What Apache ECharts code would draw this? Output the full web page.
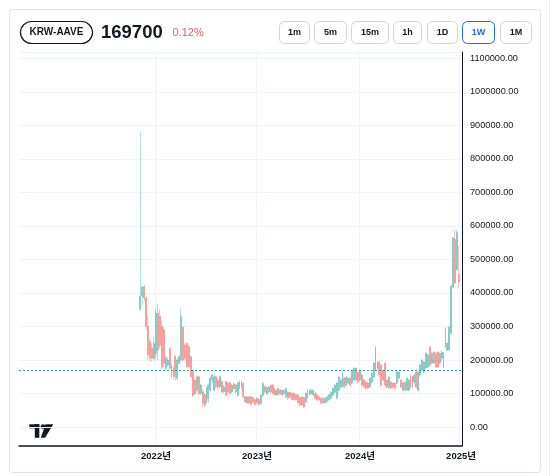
<!DOCTYPE html>
<html>
<head>
<meta charset="utf-8">
<script src="https://cdn.jsdelivr.net/npm/echarts@6/dist/echarts.min.js"></script>
<style>
  html, body { margin: 0; padding: 0; background: #fff; }
  #chart { width: 552px; height: 476px; }
</style>
</head>
<body>
<div id="chart"></div>
<script>
const SYMBOL = 'KRW-AAVE'
const CURRENT_PRICE = 169700
const CHANGE_TEXT = '0.12%'
const INTERVALS = ['1m', '5m', '15m', '1h', '1D', '1W', '1M']
const ACTIVE_INTERVAL = '1W'
const YEAR_LABELS = [2022, 2023, 2024, 2025]
// weekly slots on the time axis (mondays); candles start at FIRST_CANDLE_WEEK
const AXIS_FIRST_WEEK = '2020-08-24'
const AXIS_LAST_WEEK = '2024-12-30'
const FIRST_CANDLE_WEEK = '2021-11-01'

// weekly candles in thousand KRW: [open, close, low, high]
const CANDLES = [
  [352, 390, 346, 880], [390, 418, 364, 424], [418, 385, 375, 424], [385, 300, 290, 390],
  [300, 215, 200, 334], [255, 205, 195, 260], [235, 205, 195, 250], [205, 250, 198, 270],
  [220, 340, 200, 352], [340, 230, 200, 367], [330, 245, 235, 352], [300, 180, 170, 319],
  [290, 190, 175, 298], [175, 205, 170, 215], [185, 200, 180, 210], [235, 175, 170, 236],
  [185, 150, 145, 185], [150, 175, 140, 180], [210, 150, 140, 215], [145, 200, 140, 206],
  [190, 210, 185, 215], [200, 330, 195, 355], [298, 200, 194, 300], [245, 205, 200, 250],
  [250, 180, 178, 252], [240, 180, 175, 245], [210, 150, 148, 212], [170, 95, 90, 172],
  [140, 100, 95, 145], [110, 150, 100, 155], [150, 100, 95, 152], [100, 125, 95, 128],
  [105, 70, 60, 112], [96, 66, 60, 100], [72, 118, 70, 120], [85, 125, 72, 130],
  [110, 145, 105, 150], [140, 155, 130, 160], [110, 150, 105, 158], [150, 120, 115, 152],
  [140, 120, 110, 145], [120, 150, 115, 155], [135, 105, 100, 140], [105, 120, 100, 125],
  [135, 95, 92, 138], [130, 105, 100, 136], [132, 100, 98, 135], [105, 125, 100, 128],
  [128, 115, 110, 132], [105, 125, 100, 128], [95, 132, 90, 135], [115, 135, 110, 140],
  [135, 118, 112, 138], [130, 90, 85, 133], [90, 75, 70, 92], [72, 90, 70, 92],
  [90, 72, 70, 92], [90, 68, 65, 92], [88, 75, 70, 90], [82, 68, 65, 84],
  [86, 72, 70, 88], [82, 68, 64, 85], [70, 95, 66, 100], [95, 130, 90, 135],
  [120, 105, 100, 125], [100, 118, 96, 122], [105, 120, 100, 122], [125, 105, 100, 128],
  [125, 100, 96, 128], [115, 95, 92, 118], [96, 110, 92, 112], [115, 96, 92, 118],
  [100, 110, 96, 112], [110, 96, 92, 112], [100, 110, 96, 112], [90, 115, 86, 118],
  [104, 85, 80, 108], [104, 90, 86, 106], [100, 82, 80, 102], [100, 82, 80, 104],
  [96, 81, 78, 98], [96, 72, 70, 98], [88, 66, 62, 90], [90, 66, 62, 92],
  [87, 60, 58, 90], [75, 100, 72, 104], [86, 110, 84, 114], [110, 96, 92, 114],
  [100, 110, 96, 112], [96, 110, 92, 112], [100, 86, 82, 104], [96, 81, 78, 98],
  [90, 81, 78, 92], [86, 72, 68, 88], [86, 72, 68, 88], [72, 86, 68, 88],
  [76, 90, 72, 92], [81, 96, 78, 98], [86, 104, 82, 106], [96, 116, 92, 118],
  [104, 125, 100, 128], [86, 131, 82, 134], [110, 149, 106, 152], [120, 140, 116, 142],
  [120, 161, 116, 164], [146, 120, 116, 148], [125, 149, 120, 152], [131, 146, 128, 148],
  [146, 125, 120, 148], [131, 170, 128, 172], [140, 176, 136, 178], [176, 140, 136, 178],
  [164, 134, 130, 166], [140, 170, 136, 172], [155, 125, 120, 158], [140, 120, 116, 142],
  [134, 116, 112, 136], [131, 116, 112, 134], [120, 146, 116, 148], [134, 161, 130, 164],
  [149, 191, 146, 194], [170, 238, 166, 240], [176, 194, 170, 198], [194, 155, 150, 198],
  [185, 125, 120, 188], [170, 140, 136, 172], [190, 125, 120, 194], [140, 119, 115, 142],
  [116, 149, 112, 152], [134, 116, 112, 136], [131, 119, 115, 133], [131, 116, 112, 133],
  [131, 164, 128, 170], [146, 164, 142, 168], [140, 119, 115, 142], [110, 131, 106, 134],
  [134, 110, 106, 136], [110, 146, 106, 150], [110, 140, 106, 142], [155, 119, 115, 158],
  [149, 119, 115, 152], [134, 155, 130, 158], [164, 119, 115, 168], [110, 164, 106, 168],
  [155, 185, 150, 188], [170, 200, 166, 204], [164, 194, 160, 196], [176, 220, 172, 224],
  [179, 215, 176, 218], [239, 185, 180, 242], [191, 220, 188, 222], [224, 191, 188, 226],
  [220, 179, 176, 224], [224, 179, 176, 226], [191, 220, 188, 222], [206, 224, 200, 228],
  [179, 220, 176, 224], [295, 239, 236, 298], [230, 250, 226, 252], [230, 298, 226, 302],
  [280, 420, 276, 424], [418, 564, 415, 566], [560, 430, 425, 588], [470, 580, 466, 590],
  [455, 432.35, 415, 540]
]

const UP = '#26a69a'
const DOWN = '#ef5350'
const TEXT = '#131722'
const FONT = '"Liberation Sans", "Noto Sans CJK KR", sans-serif'
const DAY = 24 * 3600 * 1000

const chart = echarts.init(document.getElementById('chart'))

// build the weekly slots and put each candle into its week
const weeks = []
for (let t = Date.parse(AXIS_FIRST_WEEK); t <= Date.parse(AXIS_LAST_WEEK); t += 7 * DAY) {
  weeks.push(new Date(t).toISOString().slice(0, 10))
}
const candleOffset = weeks.indexOf(FIRST_CANDLE_WEEK)
const candleData = weeks.map((w, i) => {
  const c = CANDLES[i - candleOffset]
  return c ? [c[0] * 1000, c[1] * 1000, c[2] * 1000, c[3] * 1000] : '-'
})
const lastClose = CANDLES[CANDLES.length - 1][1] * 1000

// year whose Jan 1 falls inside this week, else null
const yearOfWeek = (w) => {
  const start = new Date(w + 'T00:00:00Z')
  const end = new Date(start.getTime() + 6 * DAY)
  return end.getUTCFullYear() !== start.getUTCFullYear() || start.getUTCMonth() === 0 && start.getUTCDate() === 1
    ? end.getUTCFullYear() : null
}
const isYearWeek = (i, w) => YEAR_LABELS.includes(yearOfWeek(w))

// header: symbol pill, price, change and interval buttons
const buttonX = [279, 314, 351, 393, 427, 462, 500]
const buttonW = [30, 32, 37, 28, 30, 32, 31]
const header = [
  {
    type: 'rect', z: -10, silent: true,
    shape: { x: 9.5, y: 9.5, width: 531, height: 463, r: 3 },
    style: { fill: '#fff', stroke: '#e0e3eb', lineWidth: 1 }
  },
  {
    type: 'line', silent: true,
    shape: { x1: 549.5, y1: 0, x2: 549.5, y2: 476 },
    style: { stroke: '#e6e6e6', lineWidth: 1 }
  },
  {
    type: 'rect',
    shape: { x: 20.5, y: 21.5, width: 72, height: 22, r: 11 },
    style: { fill: '#fff', stroke: TEXT, lineWidth: 1.2 }
  },
  {
    type: 'text', x: 56.5, y: 32.5,
    style: { text: SYMBOL, fill: TEXT, font: 'bold 10px ' + FONT, align: 'center', verticalAlign: 'middle' }
  },
  {
    type: 'text', x: 101, y: 33,
    style: { text: String(CURRENT_PRICE), fill: TEXT, font: 'bold 18.5px ' + FONT, verticalAlign: 'middle' }
  },
  {
    type: 'text', x: 172.5, y: 33,
    style: { text: CHANGE_TEXT, fill: '#e06262', font: '11px ' + FONT, verticalAlign: 'middle' }
  },
  ...INTERVALS.flatMap((label, i) => {
    const active = label === ACTIVE_INTERVAL
    return [
      {
        type: 'rect',
        shape: { x: buttonX[i] + 0.5, y: 21.5, width: buttonW[i], height: 22, r: 5 },
        style: { fill: '#fff', stroke: active ? '#2962ff' : '#d1d4dc', lineWidth: 1 }
      },
      {
        type: 'text', x: buttonX[i] + 0.5 + buttonW[i] / 2, y: 32.5,
        style: {
          text: label, fill: active ? '#2962ff' : TEXT, font: 'bold 9px ' + FONT,
          align: 'center', verticalAlign: 'middle'
        }
      }
    ]
  }),
  // tradingview mark
  { type: 'rect', shape: { x: 29.3, y: 424.3, width: 10, height: 4 }, style: { fill: TEXT } },
  { type: 'rect', shape: { x: 34.8, y: 424.3, width: 4.5, height: 13.5 }, style: { fill: TEXT } },
  { type: 'circle', shape: { cx: 43, cy: 426.5, r: 2.3 }, style: { fill: TEXT } },
  { type: 'polygon', shape: { points: [[45.5, 424.3], [53.3, 424.3], [45, 437.8], [40.8, 437.8]] }, style: { fill: TEXT } }
]

const option = {
  animation: false,
  backgroundColor: '#fff',
  grid: { left: 19, right: 90, top: 52, bottom: 30 },
  graphic: header,
  xAxis: {
    type: 'category',
    data: weeks,
    axisLine: { onZero: false, lineStyle: { color: TEXT, width: 1.5 } },
    axisTick: { show: false },
    axisLabel: {
      interval: isYearWeek,
      formatter: (w) => yearOfWeek(w) + '년',
      color: TEXT,
      fontFamily: FONT,
      fontWeight: 'bold',
      fontSize: 9.5,
      margin: 6
    },
    splitLine: { show: true, interval: isYearWeek, lineStyle: { color: '#f0f3fa', width: 1 } }
  },
  yAxis: {
    type: 'value',
    position: 'right',
    min: -56700,
    max: 1119000,
    splitNumber: 12,
    axisLine: { show: true, lineStyle: { color: TEXT, width: 1 } },
    axisTick: { show: false },
    axisLabel: {
      showMinLabel: false,
      showMaxLabel: false,
      color: TEXT,
      fontFamily: FONT,
      fontSize: 9.2,
      margin: 8,
      formatter: (v) => v.toFixed(2)
    },
    splitLine: { lineStyle: { color: '#f0f3fa', width: 1 } }
  },
  series: [
    {
      name: SYMBOL,
      type: 'candlestick',
      barWidth: 1.4,
      itemStyle: {
        color: UP,
        color0: DOWN,
        borderColor: UP,
        borderColor0: DOWN,
        borderWidth: 0.6,
        opacity: 0.6
      },
      markLine: {
        silent: true,
        symbol: 'none',
        animation: false,
        data: [
          {
            yAxis: CURRENT_PRICE,
            lineStyle: { color: UP, type: [2, 2], width: 1 },
            label: { show: false }
          },
          {
            yAxis: lastClose,
            lineStyle: { opacity: 0 },
            label: {
              show: true,
              position: 'end',
              distance: 1,
              formatter: (p) => Number(p.value).toFixed(2),
              color: '#fff',
              backgroundColor: DOWN,
              fontFamily: FONT,
              fontSize: 9.2,
              padding: [3, 3, 2, 3]
            }
          }
        ]
      },
      data: candleData
    }
  ]
}

chart.setOption(option)
</script>
</body>
</html>
